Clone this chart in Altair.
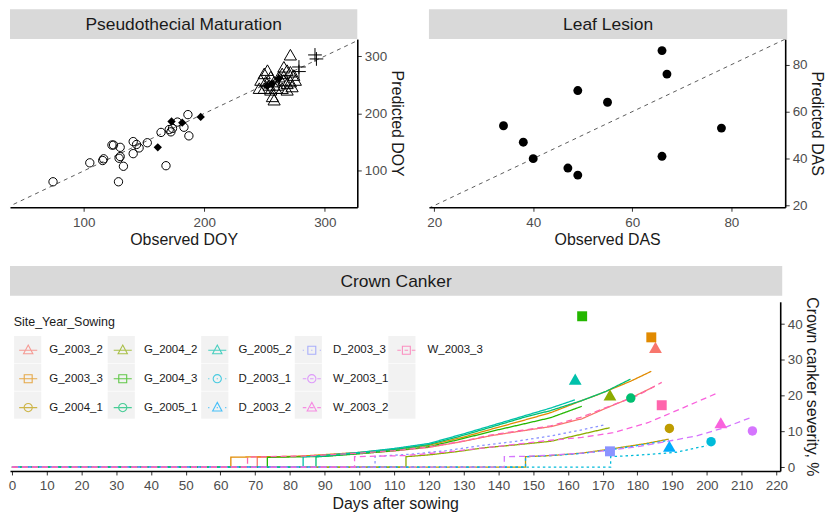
import altair as alt
import pandas as pd

FONT = "Liberation Sans"
TXT = "#1A1A1A"
LBL = "#4D4D4D"
STRIP = "#D9D9D9"

# ---------------- Pseudothecial Maturation (observed vs predicted DOY) ----------------
pm_circle_obs = [74.5, 105, 115.7, 116.5, 123.4, 124.7, 130.2, 129.3, 130.2, 132.9, 128.8, 141, 143.8,
                 145.9, 141, 152.7, 164.1, 168.2, 170.9, 173.6, 172.3, 177.7, 183.1, 186.4, 187.2]
pm_circle_pred = [81, 114, 118, 121, 145, 145, 141, 122, 125, 108, 81, 151, 146,
                  140, 130, 149, 167, 109, 172, 174, 168, 185, 176, 198, 161]
pm_diamond_obs = [161.4, 172.8, 181.7, 197, 252, 256, 262]
pm_diamond_pred = [141, 186, 184, 194, 248, 252, 261]
pm_triangle_obs = [271.4, 252.4, 249.7, 255.1, 266, 268.7, 271.4, 274.2, 264.6, 261.9, 246.9, 251, 253.8, 257.9,
                   260.6, 266, 268.7, 271.4, 275.5, 245.6, 249.7, 255.1, 259.2, 264.6, 268.7, 272.8, 256.5, 257.9]
pm_triangle_pred = [302.4, 275.5, 269.8, 264.1, 281.3, 275.5, 272.7, 266.9, 269.8, 264.1, 258.3, 255.6, 249.7, 255.6,
                    249.7, 258.3, 252.5, 255.6, 258.3, 244.1, 244.1, 241.2, 244.1, 244.1, 241.2, 247, 229.8, 224]
pm_plus_obs = [291.8, 293, 278.5, 278.5]
pm_plus_pred = [302, 295, 281, 273]
pm_identity = [0, 400]

# ---------------- Leaf Lesion (observed vs predicted DAS) ----------------
ll_obs = [34, 38, 40, 47, 49, 49, 55, 66, 67, 66, 78]
ll_pred = [54, 47, 40, 36, 33, 69, 64, 86, 76, 41, 53]
ll_identity = [0, 100]

# ---------------- Crown Canker ----------------
series_names = ["G_2003_2", "G_2003_3", "G_2004_1", "G_2004_2", "G_2004_3", "G_2005_1", "G_2005_2",
                "D_2003_1", "D_2003_2", "D_2003_3", "W_2003_1", "W_2003_2", "W_2003_3"]
series_colors = ["#F8766D", "#E18A00", "#BE9C00", "#8CAB00", "#24B700", "#00BE70", "#00C1AB",
                 "#00BBDA", "#00ACFC", "#8B93FF", "#D575FE", "#F962DD", "#FF65AC"]
series_shape = ["tri", "sq", "circ", "tri", "sq", "circ", "tri", "circ", "tri", "sq", "circ", "tri", "sq"]
obs_day = [185.2, 184, 189.2, 172.1, 164.1, 178.1, 162.1, 201.2, 189.2, 172.1, 213.1, 204, 187]
obs_sev = [33.5, 36.3, 10.8, 20.2, 42.2, 19.3, 24.6, 7.1, 5.8, 4.4, 10.1, 12.4, 17.3]

g2003_2_day = [0, 70.6, 70.6, 85, 100, 110, 120, 130, 138, 146, 155, 164, 171, 178, 185]
g2003_2_sev = [0, 0, 2.8, 3.0, 3.8, 4.5, 5.5, 7.2, 8.8, 10.0, 11.3, 13.5, 16.5, 19.3, 22.6]
g2003_3_day = [0, 63, 63, 82, 100, 110, 120, 130, 138, 147, 155, 164, 168.5, 173, 178, 184]
g2003_3_sev = [0, 0, 2.75, 3.0, 4.1, 5.0, 6.1, 8.4, 10.6, 13.0, 15.2, 18.6, 20.2, 22.0, 24.0, 26.8]
g2004_1_day = [0, 147.8, 147.8, 155, 164, 172, 182.6, 189]
g2004_1_sev = [0, 0, 2.9, 3.2, 3.9, 5.0, 6.6, 7.8]
g2004_2_day = [0, 113.4, 113.4, 120, 128, 136, 145, 155, 164, 172]
g2004_2_sev = [0, 0, 2.9, 3.4, 4.3, 5.4, 6.2, 7.2, 9.2, 11.0]
g2004_3_day = [0, 73.5, 73.5, 90, 100, 110, 120, 130, 138, 147, 155, 164]
g2004_3_sev = [0, 0, 2.7, 3.0, 3.7, 4.6, 5.7, 8.0, 10.0, 12.0, 13.8, 17.0]
g2005_1_day = [0, 87.5, 87.5, 100, 110, 120, 130, 138, 147, 155, 164, 171, 178]
g2005_1_sev = [0, 0, 2.8, 3.9, 4.9, 6.3, 8.9, 11.2, 13.8, 15.8, 18.6, 21.2, 24.6]
g2005_2_day = [0, 83.8, 83.8, 100, 110, 120, 130, 138, 147, 155, 162]
g2005_2_sev = [0, 0, 2.8, 4.1, 5.2, 6.6, 9.3, 11.6, 14.2, 16.5, 18.8]
d2003_1_day = [0, 172.3, 172.3, 180, 191, 200]
d2003_1_sev = [0, 0, 2.9, 3.3, 4.1, 6.0]
d2003_2_day = [0, 147.8, 147.8, 155, 164, 172, 182.6, 189]
d2003_2_sev = [0, 0, 2.9, 3.2, 3.8, 4.8, 6.4, 7.5]
d2003_3_day = [0, 104.5, 104.5, 115, 125, 135, 145, 155, 163, 171]
d2003_3_sev = [0, 0, 3.0, 3.6, 4.6, 6.0, 7.2, 8.7, 10.2, 11.9]
w2003_1_day = [0, 141.7, 141.7, 148, 156, 164, 172, 180, 187, 197, 205, 213]
w2003_1_sev = [0, 0, 2.9, 3.0, 3.4, 3.9, 4.7, 5.7, 6.9, 8.7, 11.0, 14.0]
w2003_2_day = [0, 98.6, 98.6, 113, 125, 140, 155, 164, 173, 183, 192, 203]
w2003_2_sev = [0, 0, 2.9, 3.2, 4.2, 5.8, 7.5, 8.3, 9.6, 12.4, 16.1, 20.7]
w2003_3_day = [0, 67.8, 67.8, 85, 100, 110, 120, 130, 138, 147, 155, 164, 173, 180, 187]
w2003_3_sev = [0, 0, 2.8, 3.1, 3.9, 4.6, 5.6, 7.3, 9.0, 10.3, 11.5, 14.0, 17.4, 20.0, 23.7]

series_days = [g2003_2_day, g2003_3_day, g2004_1_day, g2004_2_day, g2004_3_day, g2005_1_day, g2005_2_day,
               d2003_1_day, d2003_2_day, d2003_3_day, w2003_1_day, w2003_2_day, w2003_3_day]
series_sevs = [g2003_2_sev, g2003_3_sev, g2004_1_sev, g2004_2_sev, g2004_3_sev, g2005_1_sev, g2005_2_sev,
               d2003_1_sev, d2003_2_sev, d2003_3_sev, w2003_1_sev, w2003_2_sev, w2003_3_sev]

# ---------------- layout sizes ----------------
W1, W2, H1 = 349, 358, 169
W3, H3 = 774, 170
STRIP_H = 30
GAP = 18
XAX = 4 + 4 + 13.5 + 3 + 16          # bottom axis extent (tick, pad, labels, pad, title)


def strip(label, w):
    df = pd.DataFrame({"label": [label]})
    return alt.Chart(df).mark_text(font=FONT, fontSize=17.5, color=TXT, align="center", baseline="middle").encode(
        text="label:N", x=alt.value(w / 2), y=alt.value(STRIP_H / 2 + 1)
    ).properties(width=w, height=STRIP_H, view=alt.ViewBackground(fill=STRIP, strokeWidth=0))


def axis(orient, title, values):
    horizontal = orient == "bottom"
    return alt.Axis(orient=orient, title=title, values=values, grid=False, domainColor="black", domainWidth=1.6,
                    tickColor="#333333", tickSize=4, tickWidth=1, labelColor=LBL, labelFontSize=13.5,
                    labelFont=FONT, titleFont=FONT, titleFontSize=16, titleFontWeight="normal", titleColor=TXT,
                    labelPadding=4 if horizontal else 3, titlePadding=3 if horizontal else 1.5,
                    labelOverlap=False, labelFlush=False)


# ---------- panel 1 ----------
x1 = alt.Scale(domain=[38.8, 326.9], nice=False, zero=False)
y1 = alt.Scale(domain=[36.6, 329.6], nice=False, zero=False)
ax1x = axis("bottom", "Observed DOY", [100, 200, 300])
ax1y = axis("right", "Predicted DOY", [100, 200, 300])


def pm_layer(obs, pred):
    return alt.Chart(pd.DataFrame({"obs": obs, "pred": pred})).encode(
        x=alt.X("obs:Q", scale=x1, axis=ax1x), y=alt.Y("pred:Q", scale=y1, axis=ax1y))


p1 = alt.layer(
    pm_layer(pm_identity, pm_identity).mark_line(color="#333333", strokeDash=[4, 4], strokeWidth=0.8, clip=True),
    pm_layer(pm_circle_obs, pm_circle_pred).mark_point(shape="circle", filled=False, color="black", size=70, strokeWidth=1, opacity=1),
    pm_layer(pm_triangle_obs, pm_triangle_pred).mark_point(shape="triangle-up", filled=False, color="black", size=150, strokeWidth=1, opacity=1),
    pm_layer(pm_plus_obs, pm_plus_pred).mark_point(shape="M-1,0H1M0,-1V1", filled=False, color="black", size=190, strokeWidth=1, opacity=1),
    pm_layer(pm_diamond_obs, pm_diamond_pred).mark_point(shape="diamond", filled=True, color="black", size=70, opacity=1),
).properties(width=W1, height=H1)

# ---------- panel 2 ----------
x2 = alt.Scale(domain=[18.95, 90.87], nice=False, zero=False)
y2 = alt.Scale(domain=[19.3, 90.9], nice=False, zero=False)
ax2x = axis("bottom", "Observed DAS", [20, 40, 60, 80])
ax2y = axis("right", "Predicted DAS", [20, 40, 60, 80])


def ll_layer(obs, pred):
    return alt.Chart(pd.DataFrame({"obs": obs, "pred": pred})).encode(
        x=alt.X("obs:Q", scale=x2, axis=ax2x), y=alt.Y("pred:Q", scale=y2, axis=ax2y))


p2 = alt.layer(
    ll_layer(ll_identity, ll_identity).mark_line(color="#333333", strokeDash=[4, 4], strokeWidth=0.8, clip=True),
    ll_layer(ll_obs, ll_pred).mark_point(shape="circle", filled=True, color="black", size=80, opacity=1),
).properties(width=W2, height=H1)

# ---------- panel 3 ----------
rows = []
for name, days, sevs in zip(series_names, series_days, series_sevs):
    for i, (d, v) in enumerate(zip(days, sevs)):
        rows.append({"Site_Year_Sowing": name, "site": name[0], "day": d, "sev": v, "idx": i})
lines_df = pd.DataFrame(rows)

points_df = pd.DataFrame({"Site_Year_Sowing": series_names, "shp": series_shape, "day": obs_day, "sev": obs_sev})
points_df["key_bg"] = "k_" + points_df["Site_Year_Sowing"]

shape_of = dict(zip(series_names, series_shape))
color_of = dict(zip(series_names, series_colors))

# legend: 5 columns x 3 rows filled column by column; two empty slots complete the grid
BLANKS = [" ", "  "]
legend_order = series_names + BLANKS
KEY_BOX = "M-0.833,-0.833M0.833,0.833"   # fixes the key box (with stroke allowance) to ~27.3 px
KEY_SHAPE = {"tri": "M0,-0.38L0.34,0.25L-0.34,0.25Z",
             "sq": "M-0.29,-0.29H0.29V0.29H-0.29Z",
             "circ": "M0.3,0A0.3,0.3 0 1,1 -0.3,0A0.3,0.3 0 1,1 0.3,0Z"}
KEY_LINE = {"G": "M-0.66,0H0.66",
            "D": "M-0.66,0H-0.58M-0.04,0H0.04M0.58,0H0.66",
            "W": "M-0.66,0H-0.4M-0.13,0H0.13M0.4,0H0.66"}
leg_colors = [color_of.get(n, "transparent") for n in legend_order]
leg_paths = [KEY_BOX + (KEY_LINE[n[0]] + KEY_SHAPE[shape_of[n]] if n in shape_of else "") for n in legend_order]
bg_order = ["k_" + n for n in legend_order]
bg_opacity = [1 if n in shape_of else 0 for n in legend_order]

# drawing scales for lines/points (same colours, own order so they stay out of the legend)
draw_order = sorted(series_names)
series_scale = alt.Scale(domain=draw_order, range=[color_of[n] for n in draw_order])

x3 = alt.Scale(domain=[-0.56, 221.1], nice=False, zero=False)
y3 = alt.Scale(domain=[-1.1, 46.25], nice=False, zero=False)
ax3x = axis("bottom", "Days after sowing", list(range(0, 221, 10)))
ax3y = axis("right", "Crown canker severity, %", [0, 10, 20, 30, 40])
X3 = alt.X("day:Q", scale=x3, axis=ax3x)
Y3 = alt.Y("sev:Q", scale=y3, axis=ax3y)

# legends of a concatenated chart are placed in the whole chart's coordinates
P3_TOP = STRIP_H + H1 + XAX + GAP + STRIP_H
LABEL_OFF = 6.75
WIDEST_LABEL = 55.6
LEG_X, LEG_Y = 3.8, P3_TOP + 21
common = dict(orient="none", legendX=LEG_X, legendY=LEG_Y, columns=5, titleFont=FONT, titleFontSize=12.5,
              titleFontWeight="normal", titlePadding=6.8, labelFont=FONT, labelFontSize=11.5,
              rowPadding=0, columnPadding=3.0, padding=0, gridAlign="all")
main_legend = alt.Legend(title="Site_Year_Sowing", titleColor=TXT, labelColor=TXT, labelOffset=LABEL_OFF,
                         symbolSize=756, symbolStrokeWidth=1.1, zindex=2, **common)
bg_legend = alt.Legend(title="Site_Year_Sowing ", titleColor="transparent", labelExpr="''",
                       labelOffset=LABEL_OFF + WIDEST_LABEL + 0.5, symbolType="square", symbolSize=745,
                       symbolStrokeWidth=0, zindex=1, **common)

lines = alt.Chart(lines_df).mark_line(strokeWidth=1.3, clip=True).encode(
    x=X3, y=Y3,
    stroke=alt.Stroke("Site_Year_Sowing:N", scale=series_scale, legend=None),
    strokeDash=alt.StrokeDash("site:N", scale=alt.Scale(domain=["G", "D", "W"], range=[[1, 0], [2.5, 3], [6, 4]]), legend=None),
    order="idx:Q",
)


def pts(shp, vshape, size):
    return alt.Chart(points_df).transform_filter(alt.datum.shp == shp).mark_point(
        shape=vshape, filled=True, size=size, opacity=1).encode(
        x=X3, y=Y3, fill=alt.Fill("Site_Year_Sowing:N", scale=series_scale, legend=None))


# legend-only layers (no rows drawn; the legends list the scale domains)
legend_layer = alt.Chart(points_df).transform_filter("false").mark_point(filled=False, strokeWidth=1.1).encode(
    x=X3, y=Y3,
    color=alt.Color("Site_Year_Sowing:N", scale=alt.Scale(domain=legend_order, range=leg_colors), legend=main_legend),
    shape=alt.Shape("Site_Year_Sowing:N", scale=alt.Scale(domain=legend_order, range=leg_paths), legend=main_legend),
)
bg_layer = alt.Chart(points_df).transform_filter("false").mark_point(filled=True, color="#F2F2F2").encode(
    x=X3, y=Y3,
    opacity=alt.Opacity("key_bg:O", scale=alt.Scale(domain=bg_order, range=bg_opacity), legend=bg_legend),
)

p3 = alt.layer(legend_layer, bg_layer, lines, pts("tri", "triangle-up", 165), pts("sq", "square", 100),
               pts("circ", "circle", 90)).properties(width=W3, height=H3)

top = alt.concat(strip("Pseudothecial Maturation", W1), strip("Leaf Lesion", W2 + 2), p1, p2,
                 columns=2, spacing={"row": 0, "column": 21}, align="each")
bottom = alt.vconcat(strip("Crown Canker", W3 + 2), p3, spacing=0)

chart = alt.vconcat(top, bottom, spacing=GAP).properties(padding=0).configure(
    font=FONT).configure_view(strokeWidth=0)

chart.save("out.html", embed_options={"renderer": "svg", "actions": False})
